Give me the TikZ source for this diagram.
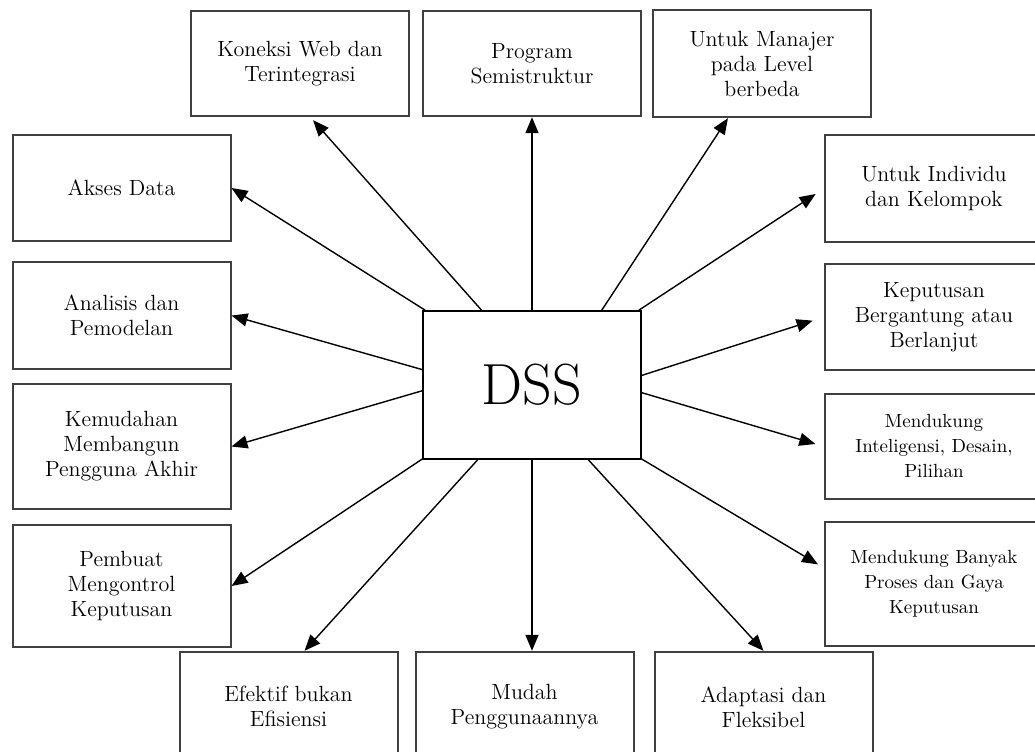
\documentclass[tikz,border=0pt]{standalone}
\usepackage{tikz}
\usetikzlibrary{arrows.meta,positioning}
\tikzset{itembox/.style={rectangle, align=center, draw=black!75, line width=1pt, minimum width=109pt, minimum height=52.5pt, font=\fontsize{11}{12.5}\selectfont}}
\tikzset{smallitem/.style={itembox, font=\fontsize{9.5}{12.5}\selectfont}}
\tikzset{hubbox/.style={rectangle, draw=black, line width=0.8pt, minimum width=109pt, minimum height=74pt, font=\fontsize{29}{32}\selectfont}}
\tikzset{arrow/.style={line width=0.7pt, -{Triangle[length=8pt,width=6.5pt]}}}

\begin{document}
\begin{tikzpicture}[x=0.5pt, y=-0.5pt]
  \useasboundingbox (0,0) rectangle (1035,751);
  \clip (0,0) rectangle (1035,751);

  \node[hubbox] (dss) at (532,385) {DSS};

  % top row
  \node[itembox, above=96.5pt of dss] (top-2) {Program\\Semistruktur};
  \node[itembox, left=6pt of top-2] (top-1) {Koneksi Web dan\\Terintegrasi};
  \node[itembox, right=5pt of top-2, minimum height=53.5pt] (top-3) {Untuk Manajer\\pada Level\\berbeda};

  % left column
  \node[itembox, minimum height=53pt] (left-1) at (121.5,188) {Akses Data};
  \node[itembox, below=9.5pt of left-1, minimum height=53.5pt] (left-2) {Analisis dan\\Pemodelan};
  \node[itembox, below=6.5pt of left-2, minimum height=62.5pt] (left-3) {Kemudahan\\Membangun\\Pengguna Akhir};
  \node[itembox, below=7pt of left-3, minimum height=61pt] (left-4) {Pembuat\\Mengontrol\\Keputusan};

  % right column
  \node[itembox, minimum height=53.5pt] (right-1) at (934,188.5) {Untuk Individu\\dan Kelompok};
  \node[itembox, below=10pt of right-1, minimum height=53pt] (right-2) {Keputusan\\Bergantung atau\\Berlanjut};
  \node[smallitem, below=11pt of right-2] (right-3) {Mendukung\\Inteligensi, Desain,\\Pilihan};
  \node[smallitem, below=10.5pt of right-3, minimum height=62pt] (right-4) {Mendukung Banyak\\Proses dan Gaya\\Keputusan};

  % bottom row
  \node[itembox, below=95.5pt of dss, xshift=-3.75pt, minimum height=55pt] (bottom-2) {Mudah\\Penggunaannya};
  \node[itembox, left=8pt of bottom-2, minimum height=55pt] (bottom-1) {Efektif bukan\\Efisiensi};
  \node[itembox, right=9.5pt of bottom-2, minimum height=55pt] (bottom-3) {Adaptasi dan\\Fleksibel};

  \draw[arrow, shorten >=2pt] (dss.124) -- (top-1.281);
  \draw[arrow] (dss.north) -- (dss.north |- top-2.south);
  \draw[arrow] (dss.47) -- (top-3.238);

  \draw[arrow, shorten >=5pt] (dss.35) -- (right-1.west);
  \draw[arrow, shorten >=6pt] (dss.5) -- (right-2.west);
  \draw[arrow, shorten >=4.5pt] (dss.356) -- (right-3.west);
  \draw[arrow, shorten >=3.5pt] (dss.326) -- ([yshift=8pt]right-4.west);

  \draw[arrow] (dss.307) -- (bottom-3.north);
  \draw[arrow] (dss.south) -- (dss.south |- bottom-2.north);
  \draw[arrow] (dss.234) -- (bottom-1.74);

  \draw[arrow] (dss.214) -- (left-4.east);
  \draw[arrow] (dss.183) -- (left-3.east);
  \draw[arrow] (dss.172) -- (left-2.east);
  \draw[arrow] (dss.145) -- (left-1.east);
\end{tikzpicture}
\end{document}
